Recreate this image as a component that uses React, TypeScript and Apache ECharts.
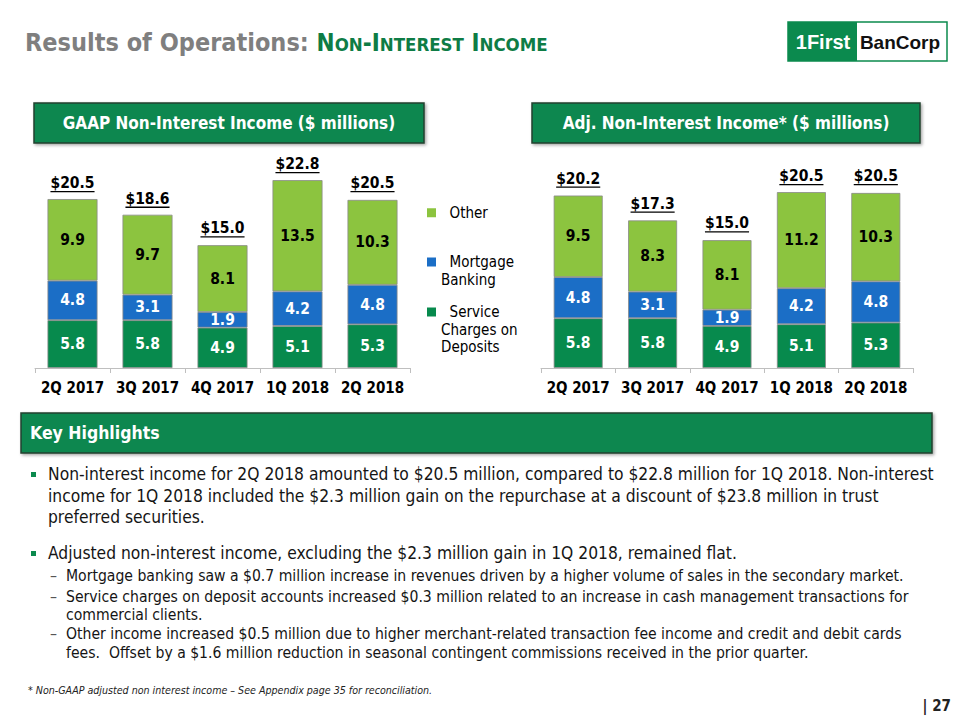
import React, { useEffect, useRef } from 'react';
import * as echarts from 'echarts';

const categories = ['2Q 2017', '3Q 2017', '4Q 2017', '1Q 2018', '2Q 2018'];
const seriesNames = ['Service Charges on Deposits', 'Mortgage Banking', 'Other'];
const gaapService = [5.8, 5.8, 4.9, 5.1, 5.3];
const gaapMortgage = [4.8, 3.1, 1.9, 4.2, 4.8];
const gaapOther = [9.9, 9.7, 8.1, 13.5, 10.3];
const gaapTotal = [20.5, 18.6, 15.0, 22.8, 20.5];
const adjService = [5.8, 5.8, 4.9, 5.1, 5.3];
const adjMortgage = [4.8, 3.1, 1.9, 4.2, 4.8];
const adjOther = [9.5, 8.3, 8.1, 11.2, 10.3];
const adjTotal = [20.2, 17.3, 15.0, 20.5, 20.5];

// leading blank lines keep the icon level with the first text line
const legendLabels: Record<string, string> = {
  'Other': '  Other',
  'Mortgage Banking': '\n  Mortgage\nBanking',
  'Service Charges on Deposits': '\n\n  Service\nCharges on\nDeposits',
};

const para1 = [
  'Non-interest income for 2Q 2018 amounted to $20.5 million, compared to $22.8 million for 1Q 2018. Non-interest',
  'income for 1Q 2018 included the $2.3 million gain on the repurchase at a discount of $23.8 million in trust',
  'preferred securities.',
];
const para2 = 'Adjusted non-interest income, excluding the $2.3 million gain in 1Q 2018, remained flat.';
const subItems = [
  ['Mortgage banking saw a $0.7 million increase in revenues driven by a higher volume of sales in the secondary market.'],
  ['Service charges on deposit accounts increased $0.3 million related to an increase in cash management transactions for', 'commercial clients.'],
  ['Other income increased $0.5 million due to higher merchant-related transaction fee income and credit and debit cards', 'fees.  Offset by a $1.6 million reduction in seasonal contingent commissions received in the prior quarter.'],
];
const footnote = '* Non-GAAP adjusted non interest income – See Appendix page 35 for reconciliation.';

const F = "'DejaVu Sans Condensed', 'DejaVu Sans', sans-serif";
const C_SERVICE = '#078a4d';
const C_MORT = '#1b6ec6';
const C_OTHER = '#8cc43f';
const C_HEAD = '#0b8750';

let measureCtx: CanvasRenderingContext2D | null = null;
function measure(text: string, font: string): number {
  if (!measureCtx) measureCtx = document.createElement('canvas').getContext('2d');
  if (!measureCtx) return text.length * 8;
  measureCtx.font = font;
  return measureCtx.measureText(text).width;
}

function barSeries(name: string, data: number[], idx: number, color: string, labelColor: string, bw: number) {
  return {
    name,
    type: 'bar',
    xAxisIndex: idx,
    yAxisIndex: idx,
    stack: 'stack' + idx,
    barWidth: bw,
    data,
    itemStyle: { color, borderColor: '#8a8a8a', borderWidth: 0.8 },
    label: {
      show: true,
      position: 'inside',
      formatter: (p: any) => Number(p.value).toFixed(1),
      fontSize: 15.5,
      fontWeight: 'bold',
      fontFamily: F,
      color: labelColor,
    },
  };
}

function totalSeries(totals: number[], idx: number) {
  return {
    type: 'custom',
    xAxisIndex: idx,
    yAxisIndex: idx,
    data: totals.map((v, i) => [i, v]),
    encode: { x: 0, y: 1 },
    z: 10,
    silent: true,
    renderItem: (_params: any, api: any) => {
      const v = api.value(1);
      const p = api.coord([api.value(0), v]);
      const txt = '$' + Number(v).toFixed(1);
      const w = measure(txt, `bold 15.5px ${F}`);
      return {
        type: 'group',
        children: [
          {
            type: 'text',
            style: {
              text: txt, x: p[0], y: p[1] - 16, align: 'center', verticalAlign: 'middle',
              fontSize: 15.5, fontWeight: 'bold', fontFamily: F, fill: '#000',
            },
          },
          {
            type: 'line',
            shape: { x1: p[0] - w / 2, y1: p[1] - 7.5, x2: p[0] + w / 2, y2: p[1] - 7.5 },
            style: { stroke: '#000', lineWidth: 1.3 },
          },
        ],
      };
    },
  };
}

function legendFor(name: string, top: number) {
  return {
    data: [name],
    left: 427,
    top,
    orient: 'vertical',
    padding: 0,
    icon: 'rect',
    itemWidth: 9,
    itemHeight: 9,
    itemStyle: { borderWidth: 0 },
    selectedMode: false,
    formatter: (n: string) => legendLabels[n] || n,
    textStyle: { fontSize: 15, lineHeight: 17.5, fontFamily: F, color: '#000' },
  };
}

function buildGraphics() {
  const g: any[] = [];
  // Title
  g.push({
    type: 'text', left: 25, top: 30,
    style: {
      text: '{g|Results of Operations: }{b|N}{s|ON}{b|-I}{s|NTEREST}{b| I}{s|NCOME}',
      rich: {
        g: { fontSize: 25, fontWeight: 'bold', fontFamily: F, fill: '#7f7f7f', verticalAlign: 'bottom' },
        b: { fontSize: 24, fontWeight: 'bold', fontFamily: F, fill: '#0e7c45', verticalAlign: 'bottom' },
        s: { fontSize: 18.5, fontWeight: 'bold', fontFamily: F, fill: '#0e7c45', verticalAlign: 'bottom', padding: [0, 0, 1, 0] },
      },
    },
  });
  // Logo
  g.push({ type: 'rect', shape: { x: 788, y: 22, width: 159, height: 39 }, style: { fill: '#fff', stroke: '#0b8a4e', lineWidth: 1.5 } });
  g.push({ type: 'rect', shape: { x: 788, y: 22, width: 69, height: 39 }, style: { fill: '#0b8a4e' } });
  g.push({ type: 'text', style: { text: '1First', x: 823, y: 42, align: 'center', verticalAlign: 'middle', fontSize: 20, fontWeight: 'bold', fontFamily: "'Liberation Sans', Arial, sans-serif", fill: '#fff' } });
  g.push({ type: 'text', style: { text: 'BanCorp', x: 900, y: 42, align: 'center', verticalAlign: 'middle', fontSize: 19, fontWeight: 'bold', fontFamily: "'Liberation Sans', Arial, sans-serif", fill: '#111' } });
  // Chart headers
  const header = (x: number, w: number, text: string) => {
    g.push({
      type: 'rect', shape: { x, y: 103, width: w, height: 40 },
      style: { fill: C_HEAD, stroke: '#23402f', lineWidth: 1.5, shadowBlur: 3, shadowColor: 'rgba(0,0,0,0.35)', shadowOffsetX: 1.5, shadowOffsetY: 1.5 },
    });
    g.push({ type: 'text', style: { text, x: x + w / 2, y: 123, align: 'center', verticalAlign: 'middle', fontSize: 17, fontWeight: 'bold', fontFamily: F, fill: '#fff' } });
  };
  header(34, 390, 'GAAP Non-Interest Income ($ millions)');
  header(532, 388, 'Adj. Non-Interest Income* ($ millions)');
  // Key highlights
  g.push({
    type: 'rect', shape: { x: 21, y: 413, width: 911, height: 40 },
    style: { fill: C_HEAD, stroke: '#23402f', lineWidth: 1.5, shadowBlur: 3, shadowColor: 'rgba(0,0,0,0.35)', shadowOffsetX: 1.5, shadowOffsetY: 1.5 },
  });
  g.push({ type: 'text', style: { text: 'Key Highlights', x: 30, y: 433, verticalAlign: 'middle', fontSize: 17.5, fontWeight: 'bold', fontFamily: F, fill: '#fff' } });
  // Body
  const bodyStyle = { fontSize: 17.3, fontFamily: F, fill: '#151515', verticalAlign: 'middle' };
  const subStyle = { fontSize: 15.6, fontFamily: F, fill: '#151515', verticalAlign: 'middle' };
  const p1y = [474, 495.5, 517];
  g.push({ type: 'rect', shape: { x: 31, y: p1y[0] - 2, width: 5, height: 5 }, style: { fill: '#0b8a4e' } });
  para1.forEach((t, i) => g.push({ type: 'text', style: { ...bodyStyle, text: t, x: 48, y: p1y[i] } }));
  g.push({ type: 'rect', shape: { x: 31, y: 553 - 2, width: 5, height: 5 }, style: { fill: '#0b8a4e' } });
  g.push({ type: 'text', style: { ...bodyStyle, text: para2, x: 48, y: 553 } });
  const subY = [[576], [597, 615], [634, 653]];
  subItems.forEach((lines, i) => {
    g.push({ type: 'text', style: { ...subStyle, text: '–', x: 50, y: subY[i][0], fill: '#555' } });
    lines.forEach((t, j) => g.push({ type: 'text', style: { ...subStyle, text: t, x: 66, y: subY[i][j] } }));
  });
  g.push({ type: 'text', style: { text: footnote, x: 28, y: 690, verticalAlign: 'middle', fontSize: 10.6, fontStyle: 'italic', fontFamily: F, fill: '#222' } });
  g.push({ type: 'text', style: { text: '| 27', x: 951, y: 706, align: 'right', verticalAlign: 'middle', fontSize: 15, fontWeight: 'bold', fontFamily: F, fill: '#222' } });
  return g;
}

export default function App() {
  const ref = useRef<HTMLDivElement>(null);
  useEffect(() => {
    if (!ref.current) return;
    const chart = echarts.init(ref.current, null, { renderer: 'svg' });
    const xAxis = (idx: number) => ({
      type: 'category',
      gridIndex: idx,
      data: categories,
      axisLine: { lineStyle: { color: '#bfbfbf', width: 1 } },
      axisTick: { show: true, length: 5, lineStyle: { color: '#bfbfbf' } },
      axisLabel: { fontSize: 15, fontWeight: 'bold', fontFamily: F, color: '#000', margin: 12, interval: 0 },
    });
    const yAxis = (idx: number) => ({ type: 'value', gridIndex: idx, min: 0, max: 25, show: false, splitLine: { show: false } });
    chart.setOption({
      animation: false,
      backgroundColor: '#fff',
      textStyle: { fontFamily: F },
      grid: [
        { left: 35, top: 162, width: 375, height: 206 },
        { left: 541, top: 153.5, width: 372, height: 214.5 },
      ],
      xAxis: [xAxis(0), xAxis(1)],
      yAxis: [yAxis(0), yAxis(1)],
      legend: [
        legendFor('Other', 204),
        legendFor('Mortgage Banking', 235.75),
        legendFor('Service Charges on Deposits', 268.25),
      ],
      series: [
        barSeries(seriesNames[0], gaapService, 0, C_SERVICE, '#fff', 50),
        barSeries(seriesNames[1], gaapMortgage, 0, C_MORT, '#fff', 50),
        barSeries(seriesNames[2], gaapOther, 0, C_OTHER, '#000', 50),
        totalSeries(gaapTotal, 0),
        barSeries(seriesNames[0], adjService, 1, C_SERVICE, '#fff', 49),
        barSeries(seriesNames[1], adjMortgage, 1, C_MORT, '#fff', 49),
        barSeries(seriesNames[2], adjOther, 1, C_OTHER, '#000', 49),
        totalSeries(adjTotal, 1),
      ],
      graphic: buildGraphics(),
    });
    return () => chart.dispose();
  }, []);
  return <div ref={ref} style={{ position: 'absolute', left: 0, top: 0, width: 960, height: 720, background: '#fff' }} />;
}
